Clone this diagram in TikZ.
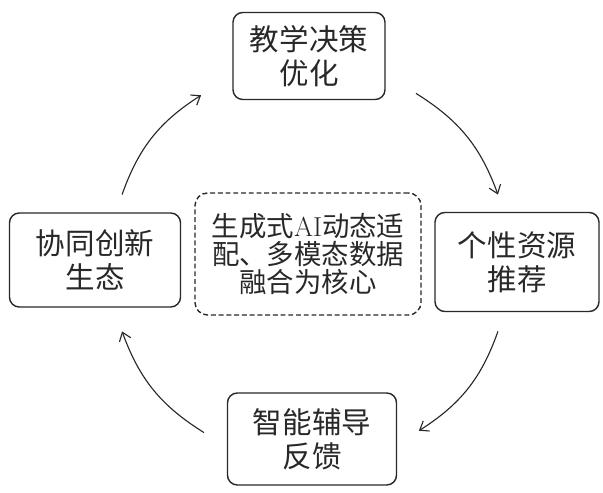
\documentclass[tikz,border=0pt]{standalone}
\usepackage{fontspec}
\usepackage{tikz}
\usetikzlibrary{arrows.meta, calc}
\newfontfamily\cjk{Noto Sans CJK SC}
\definecolor{inkgray}{RGB}{40,40,40}

\begin{document}
\begin{tikzpicture}[x=0.025cm, y=0.025cm, >={Straight Barb[length=2mm, width=3mm]},
  stage/.style={draw=inkgray, line width=1pt, rounded corners=7pt, align=center, text=inkgray, inner sep=0pt, font=\cjk\fontsize{21}{24}\selectfont},
  core/.style={stage, dash pattern=on 3.5pt off 2pt, rounded corners=9pt, font=\cjk\fontsize{19.5}{20}\selectfont},
  flow/.style={->, inkgray, line width=0.8pt}]
  \useasboundingbox (0,0) rectangle (603,492);

  \node[stage, minimum width=3.8cm, minimum height=2.175cm] (plan) at (309,436) {教学决策\\优化};
  \node[stage, minimum width=4.1cm, minimum height=2.475cm] (res) at (517,230) {个性资源\\推荐};
  \node[stage, minimum width=4.225cm, minimum height=2.3cm] (tutor) at (312,53) {智能辅导\\反馈};
  \node[stage, minimum width=4.275cm, minimum height=2.35cm] (eco) at (95,232) {协同创新\\生态};
  \node[core, minimum width=5.65cm, minimum height=3.05cm] (hubtext) at (308,238) {生成式{\rmfamily AI}动态适\\配、多模态数据\\融合为核心};

  % circle the arrows sit on
  \coordinate (hub) at (310,229);
  \coordinate (s1) at ($(hub)+(160:200)$);
  \coordinate (e1) at ($(hub)+(123:200)$);
  \coordinate (s2) at ($(hub)+(58:200)$);
  \coordinate (e2) at ($(hub)+(20:200)$);
  \coordinate (s3) at ($(hub)+(-20:200)$);
  \coordinate (e3) at ($(hub)+(-57:200)$);
  \coordinate (s4) at ($(hub)+(-122:200)$);
  \coordinate (e4) at ($(hub)+(-160:200)$);

  \draw[flow] (s1) to[bend left=19] (e1);
  \draw[flow] (s2) to[bend left=19] (e2);
  \draw[flow] (s3) to[bend left=19] (e3);
  \draw[flow] (s4) to[bend left=19] (e4);
\end{tikzpicture}
\end{document}
